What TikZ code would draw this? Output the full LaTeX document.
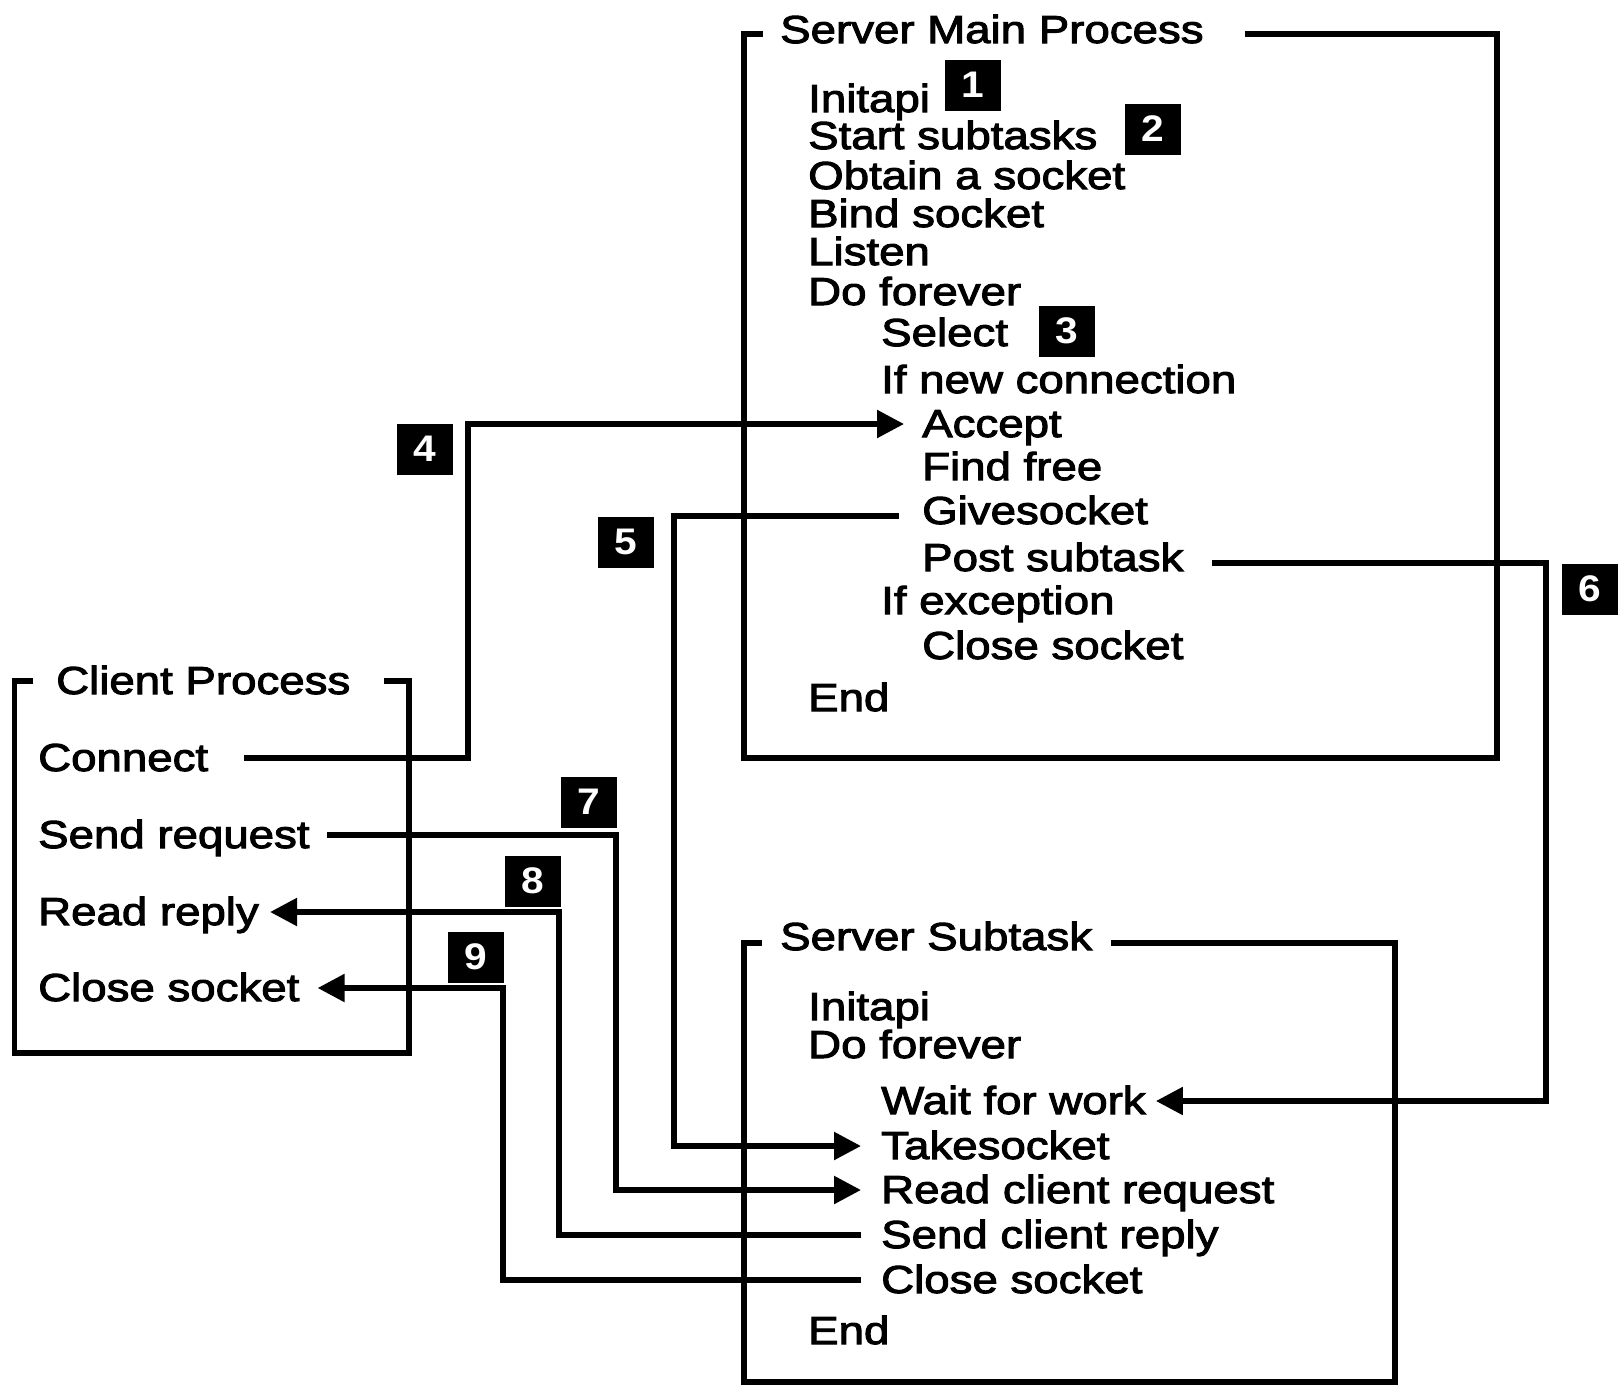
\documentclass[tikz,border=0pt]{standalone}
\usepackage{fontspec}
\usepackage{tikz}
\usetikzlibrary{arrows.meta}
\newfontfamily\labelfont{Liberation Sans}[FakeStretch=1.17,FakeBold=2.6]
\newfontfamily\numfont{Liberation Sans}[FakeStretch=1.1]

\begin{document}
\begin{tikzpicture}[x=1pt,y=-1pt,
		txt/.style={anchor=base west,inner sep=0pt,text height=26pt,text depth=0pt,font={\labelfont\fontsize{39}{39}\selectfont}},
		num/.style={shape=rectangle,fill=black,text=white,inner sep=0pt,minimum width=56pt,minimum height=51pt,font={\numfont\bfseries\fontsize{37}{37}\selectfont}},
		frame/.style={line width=5.5pt},
		arr/.style={line width=5.5pt,-{Triangle[length=27pt,width=27pt]}}]
		\useasboundingbox (0,0) rectangle (1620,1385);
		\node [txt] (smp) at (780,43) {Server Main Process};
		\node [txt] (mInitapi) at (808,112) {Initapi};
		\node [txt] (mStart) at (808,149) {Start subtasks};
		\node [txt] (mObtain) at (808,189) {Obtain a socket};
		\node [txt] (mBind) at (808,227) {Bind socket};
		\node [txt] (mListen) at (808,265) {Listen};
		\node [txt] (mDo) at (808,305) {Do forever};
		\node [txt] (mSelect) at (881,346) {Select};
		\node [txt] (mIfnew) at (881,393) {If new connection};
		\node [txt] (mAccept) at (922,437) {Accept};
		\node [txt] (mFind) at (922,480) {Find free};
		\node [txt] (mGive) at (922,524) {Givesocket};
		\node [txt] (mPost) at (922,571) {Post subtask};
		\node [txt] (mIfexc) at (881,614) {If exception};
		\node [txt] (mClose) at (922,659) {Close socket};
		\node [txt] (mEnd) at (808,711) {End};
		\draw [frame] (763,34) -- (744,34) -- (744,758) -- (1497,758) -- (1497,34) -- (1245,34);
		\node [txt] (sst) at (780,950) {Server Subtask};
		\node [txt] (sInitapi) at (808,1020) {Initapi};
		\node [txt] (sDo) at (808,1058) {Do forever};
		\node [txt] (sWait) at (881,1114) {Wait for work};
		\node [txt] (sTake) at (881,1159) {Takesocket};
		\node [txt] (sRead) at (881,1203) {Read client request};
		\node [txt] (sSend) at (881,1248) {Send client reply};
		\node [txt] (sClose) at (881,1293) {Close socket};
		\node [txt] (sEnd) at (808,1344) {End};
		\draw [frame] (762,943) -- (744,943) -- (744,1382) -- (1395,1382) -- (1395,943) -- (1111,943);
		\node [txt] (cp) at (56,694) {Client Process};
		\node [txt] (cConnect) at (38,771) {Connect};
		\node [txt] (cSend) at (38,848) {Send request};
		\node [txt] (cRead) at (38,925) {Read reply};
		\node [txt] (cClose) at (38,1001) {Close socket};
		\draw [frame] (33,681) -- (14.5,681) -- (14.5,1053) -- (409,1053) -- (409,681) -- (384,681);
		\node [num] (n1) at (973,85) {1};
		\node [num] (n2) at (1153,129) {2};
		\node [num] (n3) at (1067,331) {3};
		\node [num] (n4) at (425,449) {4};
		\node [num] (n5) at (626,542) {5};
		\node [num] (n6) at (1590,589) {6};
		\node [num] (n7) at (589,802) {7};
		\node [num] (n8) at (533,881) {8};
		\node [num] (n9) at (476,957) {9};
		\coordinate (v4) at (468,0);
		\coordinate (v5) at (674,0);
		\coordinate (v6) at (1546,0);
		\coordinate (v7) at (616,0);
		\coordinate (v8) at (559,0);
		\coordinate (v9) at (503,0);
		\draw [arr] ([xshift=36pt]cConnect.east) -- (cConnect.east -| v4) -- (mAccept.west -| v4) -- ([xshift=-18pt]mAccept.west);
		\draw [arr] ([xshift=-23pt,yshift=-5pt]mGive.west) -- ([yshift=-5pt]mGive.west -| v5) -- (sTake.west -| v5) -- ([xshift=-20pt]sTake.west);
		\draw [arr] ([xshift=28pt,yshift=-5pt]mPost.east) -- ([yshift=-5pt]mPost.east -| v6) -- (sWait.east -| v6) -- ([xshift=10pt]sWait.east);
		\draw [arr] ([xshift=17pt]cSend.east) -- (cSend.east -| v7) -- (sRead.west -| v7) -- ([xshift=-20pt]sRead.west);
		\draw [arr] ([xshift=-20pt]sSend.west) -- (sSend.west -| v8) -- (cRead.east -| v8) -- ([xshift=11pt]cRead.east);
		\draw [arr] ([xshift=-20pt]sClose.west) -- (sClose.west -| v9) -- (cClose.east -| v9) -- ([xshift=18pt]cClose.east);
	\end{tikzpicture}
\end{document}
